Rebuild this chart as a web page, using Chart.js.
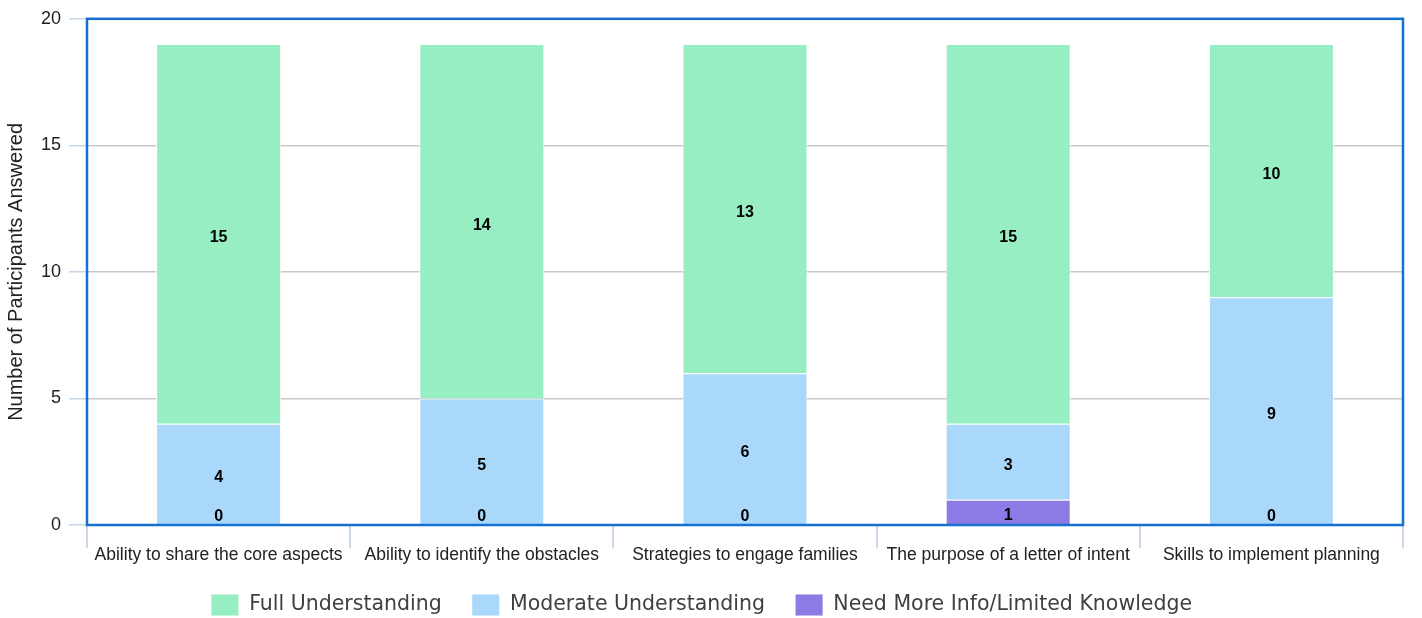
<!DOCTYPE html>
<html>
<head>
<meta charset="utf-8">
<script src="https://cdn.jsdelivr.net/npm/chart.js@4"></script>
<style>
  body { margin: 0; background: #fff; }
  #wrap { width: 1422px; height: 618px; position: relative; }
</style>
</head>
<body>
<div id="wrap"><canvas id="chart"></canvas></div>
<script>
const categories = [
  "Ability to share the core aspects",
  "Ability to identify the obstacles",
  "Strategies to engage families",
  "The purpose of a letter of intent",
  "Skills to implement planning"
];
const needMoreInfo = [0, 0, 0, 1, 0];
const moderate = [4, 5, 6, 3, 9];
const fullUnderstanding = [15, 14, 13, 15, 10];
const yTicks = [0, 5, 10, 15, 20];

const segmentLabels = {
  id: "segmentLabels",
  afterDatasetsDraw(chart) {
    const ctx = chart.ctx;
    const bottom = chart.chartArea.bottom;
    ctx.save();
    ctx.font = "bold 16px 'Liberation Sans', Arial, sans-serif";
    ctx.fillStyle = "#000";
    ctx.textAlign = "center";
    ctx.textBaseline = "middle";
    chart.data.datasets.forEach((ds, i) => {
      const meta = chart.getDatasetMeta(i);
      meta.data.forEach((el, j) => {
        let y = (el.y + el.base) / 2 + 4;
        if (y > bottom - 8) y = bottom - 8;
        ctx.fillText(String(ds.data[j]), el.x, y);
      });
    });
    ctx.restore();
  }
};

// blue frame round the plot and the category separator marks under it
const plotBorder = {
  id: "plotBorder",
  afterDraw(chart) {
    const a = chart.chartArea;
    const ctx = chart.ctx;
    const x = chart.scales.x;
    ctx.save();
    ctx.strokeStyle = "#cdd9e6";
    ctx.lineWidth = 2;
    for (let i = 0; i <= categories.length; i++) {
      const px = Math.round(x.getPixelForValue(i - 0.5));
      ctx.beginPath();
      ctx.moveTo(px, a.bottom);
      ctx.lineTo(px, a.bottom + 23);
      ctx.stroke();
    }
    ctx.strokeStyle = "#1570d0";
    ctx.lineWidth = 2.5;
    ctx.strokeRect(a.left, a.top, a.right - a.left, a.bottom - a.top);
    ctx.restore();
  }
};

new Chart(document.getElementById("chart"), {
  type: "bar",
  data: {
    labels: categories,
    datasets: [
      { label: "Need More Info/Limited Knowledge", data: needMoreInfo, backgroundColor: "#8e7ae4" },
      { label: "Moderate Understanding", data: moderate, backgroundColor: "#aad8fa" },
      { label: "Full Understanding", data: fullUnderstanding, backgroundColor: "#98eec3" }
    ]
  },
  options: {
    responsive: true,
    maintainAspectRatio: false,
    animation: false,
    datasets: {
      bar: {
        categoryPercentage: 1,
        barPercentage: 0.475,
        borderColor: "rgba(255,255,255,0.9)",
        borderWidth: 1
      }
    },
    layout: { padding: { top: 8, right: 19, bottom: -8, left: 0 } },
    plugins: {
      legend: {
        position: "bottom",
        reverse: true,
        labels: {
          boxWidth: 28,
          boxHeight: 22,
          padding: 30,
          color: "#404040",
          font: { family: "'DejaVu Sans', sans-serif", size: 20.5 }
        }
      },
      tooltip: { enabled: false }
    },
    scales: {
      x: {
        stacked: true,
        border: { display: false },
        grid: { display: false },
        afterFit(scale) { scale.height = 39; },
        ticks: {
          padding: 12,
          color: "#222",
          font: { family: "'Liberation Sans', Arial, sans-serif", size: 17.5 }
        }
      },
      y: {
        stacked: true,
        min: 0,
        max: 20,
        border: { display: false },
        afterBuildTicks(axis) {
          axis.ticks = yTicks.map(v => ({ value: v }));
        },
        afterFit(scale) { scale.width = 87; },
        grid: {
          color: "#c8c8c8",
          lineWidth: 1.5,
          tickLength: 18,
          tickColor: "#c5d6ea"
        },
        ticks: {
          padding: 8,
          color: "#222",
          font: { family: "'Liberation Sans', Arial, sans-serif", size: 18 }
        },
        title: {
          display: true,
          text: "Number of Participants Answered",
          color: "#222",
          font: { family: "'Liberation Sans', Arial, sans-serif", size: 20 },
          padding: { top: 4, bottom: 4 }
        }
      }
    }
  },
  plugins: [segmentLabels, plotBorder]
});
</script>
</body>
</html>
